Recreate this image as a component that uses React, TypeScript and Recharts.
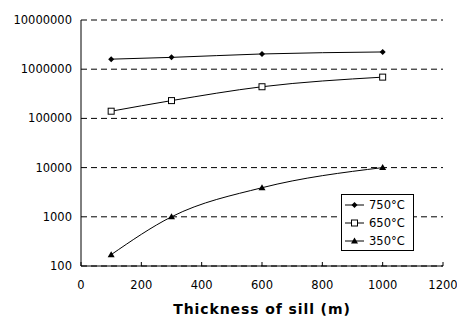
import { CartesianGrid, Line, LineChart, XAxis, YAxis } from "recharts";

const thickness = [100, 300, 600, 1000];
const t750 = [1600000, 1740000, 2040000, 2240000];
const t650 = [140000, 230000, 440000, 690000];
const t350 = [170, 1000, 3900, 10000];

const xTicks = [0, 200, 400, 600, 800, 1000, 1200];
const yTicks = [100, 1000, 10000, 100000, 1000000, 10000000];

const data = thickness.map((x, i) => ({
  x,
  t750: t750[i],
  t650: t650[i],
  t350: t350[i],
}));

const font = "'DejaVu Sans', Verdana, sans-serif";

const Diamond = (props: any) => {
  const { cx, cy } = props;
  return <path d={`M${cx},${cy - 3}L${cx + 3},${cy}L${cx},${cy + 3}L${cx - 3},${cy}Z`} fill="#000" />;
};
const Square = (props: any) => {
  const { cx, cy } = props;
  return <rect x={cx - 3} y={cy - 3} width={6} height={6} fill="#fff" stroke="#000" strokeWidth={1} />;
};
const Triangle = (props: any) => {
  const { cx, cy } = props;
  return <path d={`M${cx},${cy - 3.5}L${cx + 3.5},${cy + 2.5}L${cx - 3.5},${cy + 2.5}Z`} fill="#000" />;
};

const legendItems = [
  { label: "750°C", Mark: Diamond },
  { label: "650°C", Mark: Square },
  { label: "350°C", Mark: Triangle },
];

function LegendBox() {
  return (
    <svg width={73} height={57} style={{ display: "block" }}>
      <rect x={0.5} y={0.5} width={72} height={56} fill="#fff" stroke="#000" />
      {legendItems.map(({ label, Mark }, i) => {
        const y = 11 + i * 18;
        return (
          <g key={label}>
            <line x1={4} x2={23} y1={y} y2={y} stroke="#000" />
            <Mark cx={13.5} cy={y} />
            <text x={28} y={y + 4} fontSize={11.5} fontFamily={font} fill="#000">
              {label}
            </text>
          </g>
        );
      })}
    </svg>
  );
}

export default function App() {
  return (
    <div style={{ position: "absolute", left: 0, top: 0, width: 457, height: 316, background: "#fff" }}>
      <LineChart width={457} height={316} data={data} margin={{ top: 20, right: 14, bottom: 0, left: 0 }}>
        <CartesianGrid vertical={false} stroke="#000" strokeDasharray="6 4" />
        <XAxis
          dataKey="x"
          type="number"
          domain={[0, 1200]}
          ticks={xTicks}
          height={50}
          stroke="#000"
          tickSize={-4}
          tickMargin={19}
          tick={{ fill: "#000", fontSize: 11.5, fontFamily: font }}
          label={{
            value: "Thickness of sill (m)",
            position: "insideBottom",
            offset: 2,
            style: { fill: "#000", fontSize: 14, fontWeight: "bold", letterSpacing: 0.9, fontFamily: font },
          }}
        />
        <YAxis
          scale="log"
          domain={[100, 10000000]}
          ticks={yTicks}
          allowDataOverflow
          width={81}
          stroke="#000"
          tickLine={false}
          tickSize={0}
          tickMargin={9}
          tickFormatter={(v: number) => String(v)}
          tick={{ fill: "#000", fontSize: 11.5, fontFamily: font }}
        />
        <Line dataKey="t750" type="monotone" stroke="#000" strokeWidth={1} dot={<Diamond />} isAnimationActive={false} />
        <Line dataKey="t650" type="monotone" stroke="#000" strokeWidth={1} dot={<Square />} isAnimationActive={false} />
        <Line dataKey="t350" type="monotone" stroke="#000" strokeWidth={1} dot={<Triangle />} isAnimationActive={false} />
      </LineChart>
      <div style={{ position: "absolute", left: 341, top: 194 }}>
        <LegendBox />
      </div>
    </div>
  );
}
